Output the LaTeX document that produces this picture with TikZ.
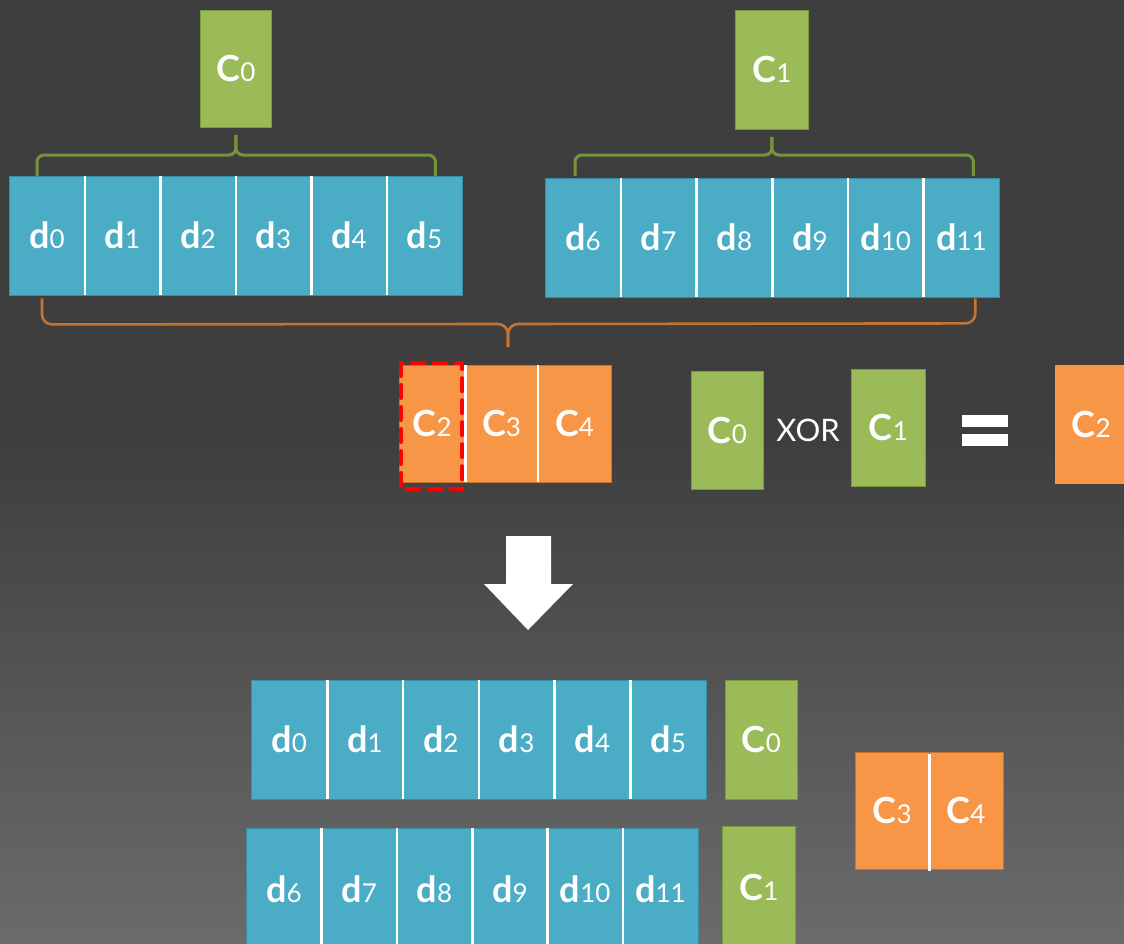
\documentclass[tikz,border=0pt]{standalone}
\usepackage{fontspec}
\setmainfont{Lato}
\usetikzlibrary{calc}

\definecolor{bgtop}{HTML}{3E3E3E}
\definecolor{bgbot}{HTML}{6B6B6B}
\definecolor{datablue}{HTML}{4BACC6}
\definecolor{blueedge}{HTML}{3A8CA3}
\definecolor{parigreen}{HTML}{9BBB59}
\definecolor{greenedge}{HTML}{7A9A3E}
\definecolor{pariorange}{HTML}{F79646}
\definecolor{orangeedge}{HTML}{C9742E}
\definecolor{bracegreen}{HTML}{77933C}
\definecolor{braceorange}{HTML}{C4742F}

% block label: bold letter followed by a smaller plain index
\newcommand\blk[2]{{\bfseries #1}{\fontsize{26}{26}\selectfont #2}}

\tikzset{
  cell/.style={rectangle, inner sep=0pt, anchor=north west, text=white,
    font=\fontsize{36}{36}\selectfont},
  dcell/.style={cell, fill=datablue, minimum width=#1},
  gcell/.style={cell, fill=parigreen, draw=greenedge, line width=0.8pt},
  ocell/.style={cell, fill=pariorange},
  divider/.style={white, line width=2.6pt},
  rowedge/.style={draw=blueedge, line width=0.8pt},
  oedge/.style={draw=orangeedge, line width=0.6pt},
  gbrace/.style={bracegreen, line width=3pt, rounded corners=7pt},
  obrace/.style={braceorange, line width=2.6pt, rounded corners=10pt},
  lostmark/.style={red, line width=4pt, dash pattern=on 13pt off 9pt, line cap=round},
}

% \datarow{prefix}{left}{top}{cell width}{height}{first index}
\newcommand\datarow[6]{
  \foreach \i in {0,...,5}{
    \pgfmathtruncatemacro\k{#6+\i}
    \node[dcell=#4 pt, minimum height=#5 pt] (#1\i) at ({#2+\i*#4}, #3) {\blk{d}{\k}};
  }
  \draw[rowedge] (#10.north west) rectangle (#15.south east);
  \foreach \i in {0,...,4}{
    \draw[divider] (#1\i.north east) -- (#1\i.south east);
  }
}

\begin{document}
\begin{tikzpicture}[x=1pt, y=-1pt]
  \useasboundingbox (0,0) rectangle (1124,943);
  \clip (0,0) rectangle (1124,943);

  % background
  \fill[bgtop] (0,0) rectangle (1124,440);
  \shade[top color=bgtop, bottom color=bgbot] (0,439) rectangle (1124,943);

  % ---- upper part: two stripes with their local parities ----
  \node[gcell, minimum width=71pt, minimum height=117pt] (c0t) at (200,10) {\blk{C}{0}};
  \node[gcell, minimum width=73pt, minimum height=119pt] (c1t) at (735,10) {\blk{C}{1}};

  \datarow{a}{9}{176}{75.5}{119}{0}
  \datarow{b}{545}{178}{75.67}{119}{6}

  % braces from each data row to its local parity
  \coordinate (g0tip) at ($(c0t.south)+(0,7)$);
  \draw[gbrace] ($(a0.north west)+(28,0)$) -- ++(0,-21) -- (g0tip |- 0,155) -- (g0tip);
  \draw[gbrace] ($(a5.north east)+(-27,0)$) -- ++(0,-21) -- (g0tip |- 0,155) -- (g0tip);
  \coordinate (g1tip) at ($(c1t.south)+(0,7)$);
  \draw[gbrace] ($(b0.north west)+(30,-2)$) -- ++(0,-21) -- (g1tip |- 0,155) -- (g1tip);
  \draw[gbrace] ($(b5.north east)+(-26,-2)$) -- ++(0,-21) -- (g1tip |- 0,155) -- (g1tip);

  % brace over all twelve data blocks down to the global parities
  \coordinate (otip) at (508,347);
  \draw[obrace] ($(a0.south west)+(33,3)$) -- ++(0,26) -- (otip |- 0,324) -- (otip);
  \draw[obrace] ($(b5.south east)+(-24,1)$) -- ++(0,25) -- (otip |- 0,324) -- (otip);

  % global parities
  \node[ocell, minimum width=66pt, minimum height=117pt] (c2) at (399,365) {\blk{C}{2}};
  \node[ocell, minimum width=72pt, minimum height=117pt] (c3) at (c2.north east) {\blk{C}{3}};
  \node[ocell, minimum width=73pt, minimum height=117pt] (c4) at (c3.north east) {\blk{C}{4}};
  \draw[oedge] (c2.north west) rectangle (c4.south east);
  \draw[divider] (c2.north east) -- (c2.south east);
  \draw[divider] (c3.north east) -- (c3.south east);
  \draw[lostmark] ($(c2.north west)+(2,-2)$) rectangle ($(c2.south east)+(-3,7)$);

  % C0 XOR C1 = C2
  \node[gcell, minimum width=72pt, minimum height=118pt] (x0) at (691,371) {\blk{C}{0}};
  \node[text=white, font=\fontsize{31}{31}\selectfont, anchor=center] (xor) at (808,430) {XOR};
  \node[gcell, minimum width=74pt, minimum height=117pt] (x1) at (851,369) {\blk{C}{1}};
  \fill[white] (962,415) rectangle (1008,427);
  \fill[white] (962,434) rectangle (1008,446);
  \node[ocell, minimum width=72pt, minimum height=119pt] (x2) at (1055,365) {\blk{C}{2}};

  % arrow
  \fill[white] (506,536) -- (551,536) -- (551,584) -- (573,584) -- (528,630)
    -- (484,584) -- (506,584) -- cycle;

  % ---- lower part: stripes stored with local parities ----
  \datarow{e}{251}{680}{75.83}{119}{0}
  \node[gcell, minimum width=72pt, minimum height=119pt] (c0b) at (725,680) {\blk{C}{0}};
  \datarow{f}{246}{828}{75.33}{122}{6}
  \node[gcell, minimum width=73pt, minimum height=122pt] (c1b) at (722,826) {\blk{C}{1}};

  \node[ocell, minimum width=74pt, minimum height=117pt] (c3b) at (855,752) {\blk{C}{3}};
  \node[ocell, minimum width=73pt, minimum height=117pt] (c4b) at (c3b.north east) {\blk{C}{4}};
  \draw[oedge] (c3b.north west) rectangle (c4b.south east);
  \draw[divider] ($(c3b.north east)+(0,2)$) -- ($(c3b.south east)+(0,2)$);
\end{tikzpicture}
\end{document}
